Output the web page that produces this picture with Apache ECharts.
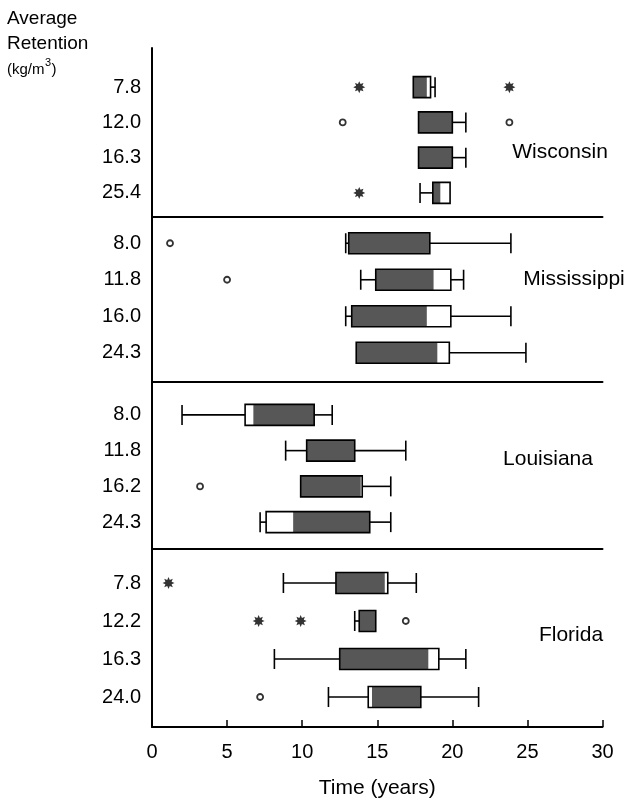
<!DOCTYPE html>
<html>
<head>
<meta charset="utf-8">
<script src="https://cdn.jsdelivr.net/npm/echarts@6/dist/echarts.min.js"></script>
<style>
html,body{margin:0;padding:0;background:#fff;}
#chart{width:631px;height:804px;}
</style>
</head>
<body>
<div id="chart"></div>
<script>
// ---- data ----
const stateNames = ['Wisconsin', 'Mississippi', 'Louisiana', 'Florida'];
const wiCats = ['7.8', '12.0', '16.3', '25.4'];
const msCats = ['8.0', '11.8', '16.0', '24.3'];
const laCats = ['8.0', '11.8', '16.2', '24.3'];
const flCats = ['7.8', '12.2', '16.3', '24.0'];
// each box: [whiskerLow, Q1, shadeFrom, shadeTo, Q3, whiskerHigh]
const wiBoxes = [
  [17.4, 17.4, 17.4, 18.3, 18.55, 18.85],
  [17.75, 17.75, 17.75, 20.0, 20.0, 20.9],
  [17.75, 17.75, 17.75, 20.0, 20.0, 20.9],
  [17.85, 18.7, 18.7, 19.2, 19.85, 19.85]
];
const msBoxes = [
  [12.9, 13.1, 13.1, 18.5, 18.5, 23.9],
  [13.9, 14.9, 14.9, 18.75, 19.9, 20.75],
  [12.9, 13.3, 13.3, 18.3, 19.9, 23.9],
  [13.6, 13.6, 13.6, 19.0, 19.8, 24.9]
];
const laBoxes = [
  [2.0, 6.2, 6.75, 10.8, 10.8, 12.0],
  [8.9, 10.3, 10.3, 13.5, 13.5, 16.9],
  [9.9, 9.9, 9.9, 13.9, 14.0, 15.9],
  [7.2, 7.6, 9.4, 14.5, 14.5, 15.9]
];
const flBoxes = [
  [8.75, 12.25, 12.25, 15.5, 15.7, 17.6],
  [13.5, 13.8, 13.8, 14.9, 14.9, 14.9],
  [8.15, 12.5, 12.5, 18.4, 19.1, 20.9],
  [11.75, 14.4, 14.65, 17.9, 17.9, 21.75]
];
// outliers (circles): [time, rowIndex]
const wiOutliers = [[12.7, 1], [23.8, 1]];
const msOutliers = [[1.2, 0], [5.0, 1]];
const laOutliers = [[3.2, 2]];
const flOutliers = [[16.9, 1], [7.2, 3]];
// extremes (asterisks): [time, rowIndex]
const wiExtremes = [[13.8, 0], [23.8, 0], [13.8, 3]];
const msExtremes = [];
const laExtremes = [];
const flExtremes = [[1.1, 0], [7.1, 1], [9.9, 1]];
const xTicks = [0, 5, 10, 15, 20, 25, 30];

const panelCats = [wiCats, msCats, laCats, flCats];
const panelBoxes = [wiBoxes, msBoxes, laBoxes, flBoxes];
const panelOutliers = [wiOutliers, msOutliers, laOutliers, flOutliers];
const panelExtremes = [wiExtremes, msExtremes, laExtremes, flExtremes];

// ---- layout ----
const FONT = "'Liberation Sans', Arial, Helvetica, sans-serif";
const LEFT = 152, RIGHT = 28.5;
const panelGrids = [
  {top: 69.5, height: 141, sepOffset: 6.5},
  {top: 225, height: 146, sepOffset: 11},
  {top: 397, height: 143, sepOffset: 9},
  {top: 564, height: 152, sepOffset: 0}
];

// asterisk symbol path
function starPath() {
  let d = '';
  for (let i = 0; i < 16; i++) {
    const a = i * Math.PI / 8 - Math.PI / 2;
    const r = i % 2 === 0 ? 10 : 5.6;
    const x = (10 + r * Math.cos(a)).toFixed(2), y = (10 + r * Math.sin(a)).toFixed(2);
    d += (i === 0 ? 'M' : 'L') + x + ' ' + y + ' ';
  }
  return 'path://' + d + 'Z';
}
const STAR = starPath();

function renderBox(params, api) {
  const cat = api.value(0);
  const lo = api.value(1), q1 = api.value(2), s0 = api.value(3), s1 = api.value(4), q3 = api.value(5), hi = api.value(6);
  const y = api.coord([0, cat])[1];
  const X = v => api.coord([v, cat])[0];
  const h = 21, ch = 20;
  const ls = {stroke: '#000', lineWidth: 1.6, fill: null};
  const kids = [];
  if (lo < q1) {
    kids.push({type: 'line', shape: {x1: X(lo), y1: y, x2: X(q1), y2: y}, style: ls});
    kids.push({type: 'line', shape: {x1: X(lo), y1: y - ch / 2, x2: X(lo), y2: y + ch / 2}, style: ls});
  }
  if (hi > q3) {
    kids.push({type: 'line', shape: {x1: X(q3), y1: y, x2: X(hi), y2: y}, style: ls});
    kids.push({type: 'line', shape: {x1: X(hi), y1: y - ch / 2, x2: X(hi), y2: y + ch / 2}, style: ls});
  }
  kids.push({type: 'rect', shape: {x: X(q1), y: y - h / 2, width: X(q3) - X(q1), height: h}, style: {fill: '#fff'}});
  if (s1 > s0) {
    kids.push({type: 'rect', shape: {x: X(s0), y: y - h / 2, width: X(s1) - X(s0), height: h}, style: {fill: '#575757'}});
  }
  kids.push({type: 'rect', shape: {x: X(q1), y: y - h / 2, width: X(q3) - X(q1), height: h}, style: {fill: null, stroke: '#000', lineWidth: 1.6}});
  return {type: 'group', children: kids};
}

const grids = [], xAxes = [], yAxes = [], series = [];
panelGrids.forEach((g, i) => {
  grids.push({left: LEFT, right: RIGHT, top: g.top, height: g.height});
  xAxes.push({
    gridIndex: i, type: 'value', min: 0, max: 30, interval: 5,
    show: i < 3, offset: g.sepOffset,
    axisLine: {show: true, lineStyle: {color: '#000', width: 2}},
    axisTick: {show: false}, axisLabel: {show: false}, splitLine: {show: false}
  });
  yAxes.push({
    gridIndex: i, type: 'category', data: panelCats[i], inverse: true,
    axisLine: {show: false}, axisTick: {show: false}, splitLine: {show: false},
    axisLabel: {fontSize: 20, color: '#000', fontFamily: FONT, margin: 11}
  });
  series.push({
    type: 'custom', xAxisIndex: i, yAxisIndex: i, renderItem: renderBox,
    encode: {x: [1, 2, 3, 4, 5, 6], y: 0},
    data: panelBoxes[i].map((b, r) => [r].concat(b)), z: 3
  });
  series.push({
    type: 'scatter', xAxisIndex: i, yAxisIndex: i, symbol: 'circle', symbolSize: 6,
    itemStyle: {color: '#fff', borderColor: '#000', borderWidth: 1.8},
    data: panelOutliers[i], z: 4
  });
  series.push({
    type: 'scatter', xAxisIndex: i, yAxisIndex: i, symbol: STAR, symbolSize: 12,
    itemStyle: {color: '#000'},
    data: panelExtremes[i], z: 4
  });
});
// background grid: left and bottom axes
grids.push({left: LEFT, right: RIGHT, top: 48, bottom: 71});
xAxes.push({
  gridIndex: 4, type: 'value', min: xTicks[0], max: xTicks[xTicks.length - 1], interval: 5,
  axisLine: {show: true, lineStyle: {color: '#000', width: 2}},
  axisTick: {show: true, inside: true, length: 7, lineStyle: {color: '#000', width: 1.5}},
  axisLabel: {fontSize: 20, color: '#000', fontFamily: FONT, margin: 15},
  splitLine: {show: false},
  name: 'Time (years)', nameLocation: 'middle', nameGap: 51,
  nameTextStyle: {fontSize: 21, color: '#000', fontFamily: FONT}
});
yAxes.push({
  gridIndex: 4, type: 'value', min: 0, max: 1,
  axisLine: {show: true, lineStyle: {color: '#000', width: 2}},
  axisTick: {show: false}, axisLabel: {show: false}, splitLine: {show: false}
});

const statePos = [[560, 152], [574, 279], [548, 459], [571, 635]];
const graphics = stateNames.map((s, i) => ({
  type: 'text', x: statePos[i][0], y: statePos[i][1],
  style: {text: s, font: '21px ' + FONT, fill: '#000', textAlign: 'center', textVerticalAlign: 'middle'}
}));
graphics.push({type: 'text', left: 7, top: 9, style: {text: 'Average', font: '19px ' + FONT, fill: '#000'}});
graphics.push({type: 'text', left: 7, top: 34, style: {text: 'Retention', font: '19px ' + FONT, fill: '#000'}});
graphics.push({type: 'text', left: 7, top: 62, style: {text: '(kg/m', font: '15px ' + FONT, fill: '#000'}});
graphics.push({type: 'text', left: 45, top: 57, style: {text: '3', font: '11px ' + FONT, fill: '#000'}});
graphics.push({type: 'text', left: 51.5, top: 62, style: {text: ')', font: '15px ' + FONT, fill: '#000'}});

const chart = echarts.init(document.getElementById('chart'), null, {renderer: 'canvas'});
chart.setOption({
  animation: false,
  backgroundColor: '#fff',
  grid: grids, xAxis: xAxes, yAxis: yAxes, series: series,
  graphic: graphics
});
</script>
</body>
</html>
